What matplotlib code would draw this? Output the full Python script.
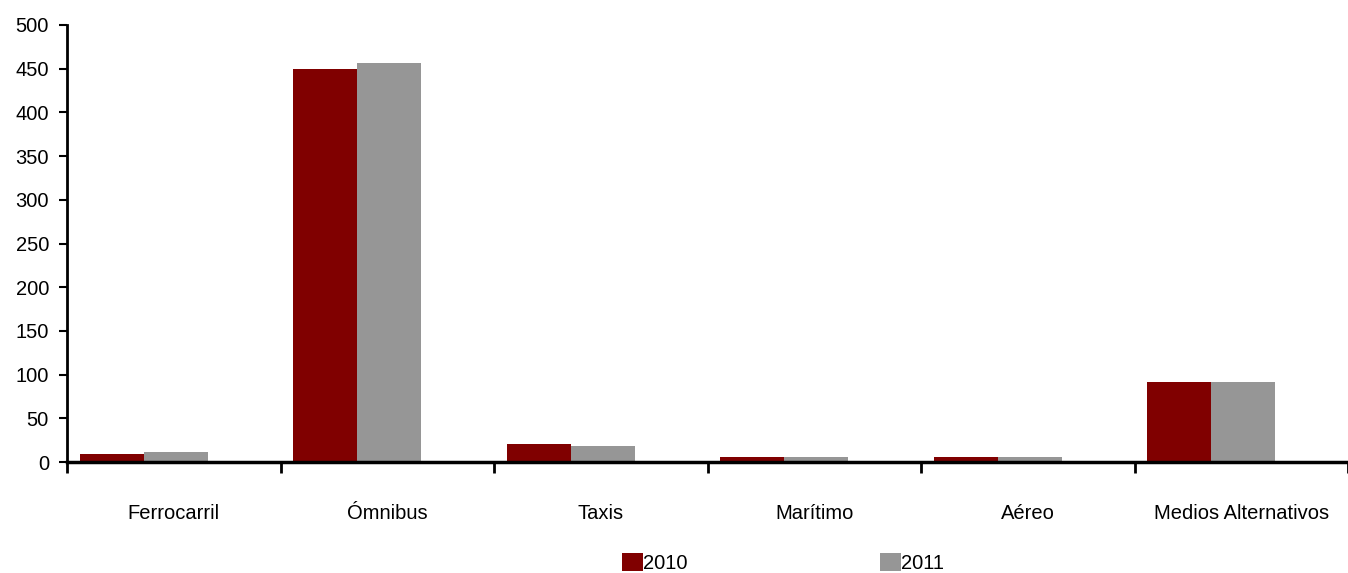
import numpy as np
import matplotlib.pyplot as plt

plt.rcParams['font.family'] = ['Liberation Sans', 'DejaVu Sans']

categories = ["Ferrocarril", "Ómnibus", "Taxis", "Marítimo", "Aéreo", "Medios Alternativos"]
vals_2010 = [9, 450, 21, 5.5, 5.5, 91]
vals_2011 = [12, 457, 18, 5.5, 5.5, 91]

fig = plt.figure(figsize=(13.48, 5.73), dpi=100)
ax = fig.add_axes([67 / 1348, 111 / 573, 1 - 67 / 1348, 437 / 573])

x = np.arange(len(categories))
w = 0.3
shift = -0.14
ax.bar(x + shift - w / 2, vals_2010, w, color='#800000', label='2010')
ax.bar(x + shift + w / 2, vals_2011, w, color='#969696', label='2011')

ax.set_xlim(-0.5, len(categories) - 0.5)
ax.set_ylim(0, 500)
ax.set_yticks(range(0, 501, 50))
ax.tick_params(axis='y', labelsize=14.5, width=1.5, length=6, pad=7)

ax.set_xticks(x)
ax.set_xticklabels(categories, fontsize=14.5)
ax.tick_params(axis='x', which='major', length=0, pad=30)
ax.set_xticks(np.arange(-0.5, len(categories), 1), minor=True)
ax.tick_params(axis='x', which='minor', length=8, width=2, direction='out')

for s in ['top', 'right']:
    ax.spines[s].set_visible(False)
ax.spines['left'].set_linewidth(2)
ax.spines['bottom'].set_linewidth(2.5)

fig.legend(loc='center', bbox_to_anchor=(783 / 1348, 10 / 573), ncol=2, frameon=False,
           fontsize=14.5, handlelength=1, handleheight=1, handletextpad=0, columnspacing=9.6)

fig.savefig('out.png', dpi=100)
